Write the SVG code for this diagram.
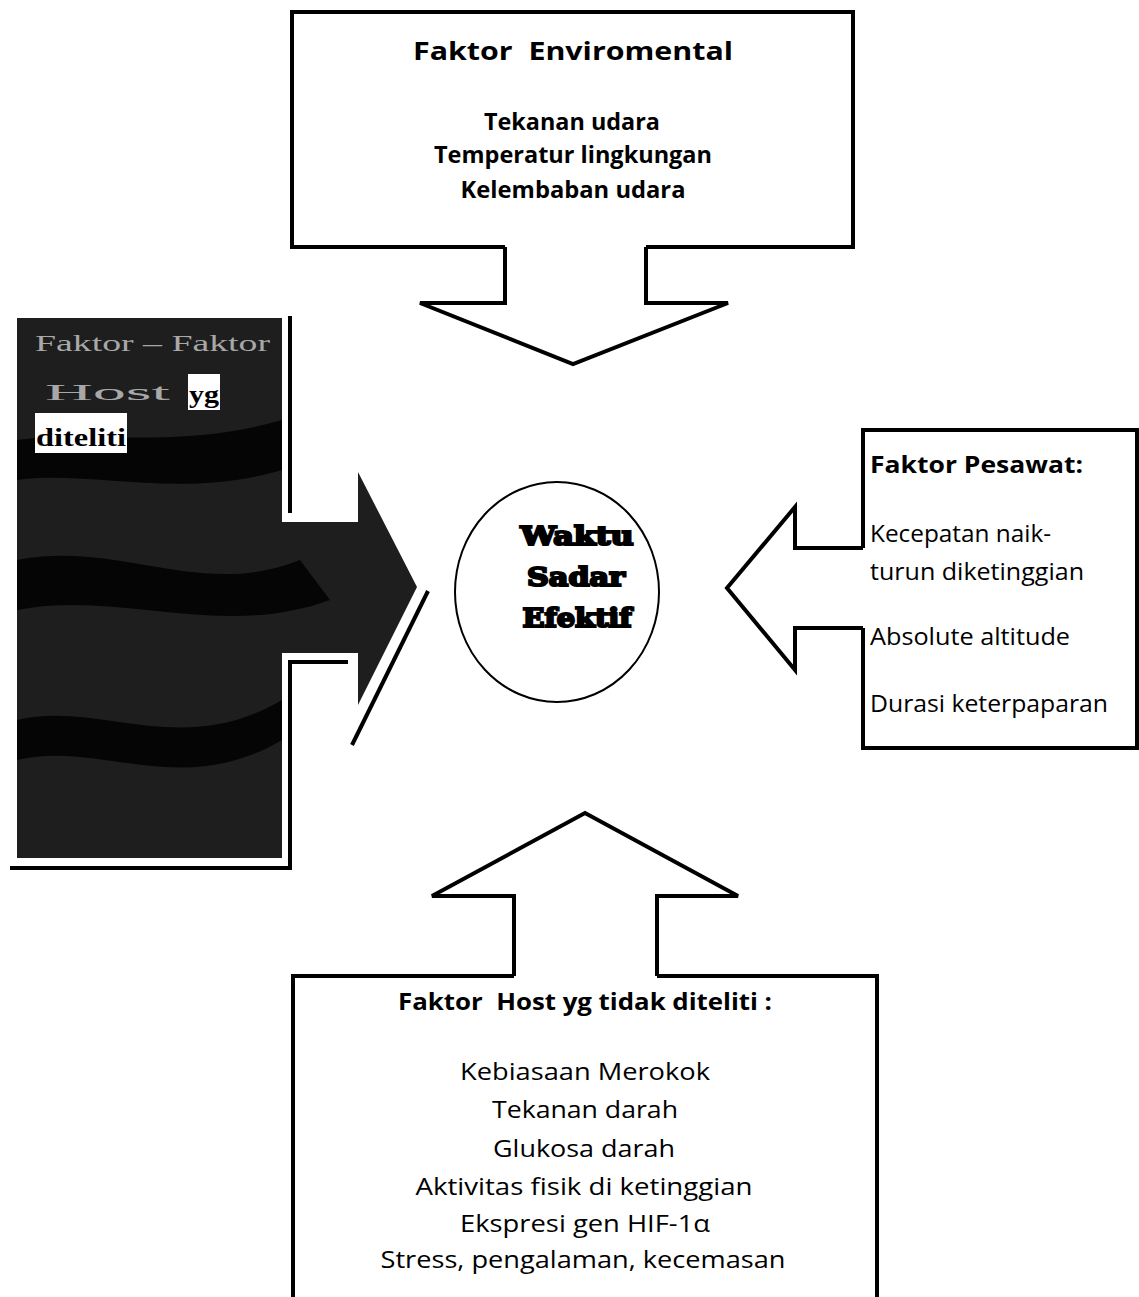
<svg xmlns="http://www.w3.org/2000/svg" width="1139" height="1297" viewBox="0 0 1139 1297">
<style>
  .ln { fill: none; stroke: #000; stroke-width: 4; stroke-linejoin: miter; }
  .t { font-family: "Open Sans", "Liberation Sans", sans-serif; fill: #000; white-space: pre; }
  .b { font-weight: bold; }
  .c { text-anchor: middle; }
  .big { font-family: "DejaVu Serif", "Liberation Serif", serif; font-weight: bold; fill: #000; stroke: #000; stroke-width: 2.2; text-anchor: middle; }
  .ser { font-family: "Liberation Serif", "DejaVu Serif", serif; font-weight: bold; fill: #000; }
  .faint { font-family: "Liberation Serif", "DejaVu Serif", serif; fill: #a8a8a8; }
</style>
<rect width="1139" height="1297" fill="#fff"/>

<g id="node-host-diteliti">
  <rect x="17" y="318" width="265" height="540" fill="#1e1e1e"/>
  <path d="M282,522 H358 V472 L417,587 L358,705 V653 H282 Z" fill="#1e1e1e"/>
  <path d="M17,480 C90,470 180,500 282,470 V420 C180,450 90,430 17,440 Z" fill="#050505"/>
  <path d="M17,560 C120,540 200,600 300,560 L330,600 C220,640 120,590 17,610 Z" fill="#050505"/>
  <path d="M17,720 C100,700 180,760 282,700 V740 C180,800 100,740 17,760 Z" fill="#050505"/>
  <text class="faint" x="35" y="351" font-size="24" textLength="235" lengthAdjust="spacingAndGlyphs">Faktor – Faktor</text>
  <text class="faint" x="45" y="400" font-size="24" textLength="125" lengthAdjust="spacingAndGlyphs">Host</text>
  <rect x="188" y="374" width="32" height="36" fill="#fff"/>
  <text class="ser" x="189" y="403" font-size="26" textLength="30" lengthAdjust="spacingAndGlyphs">yg</text>
  <rect x="35" y="413" width="92" height="40" fill="#fff"/>
  <text class="ser" x="36" y="446" font-size="26" textLength="90" lengthAdjust="spacingAndGlyphs">diteliti</text>
  <path class="ln" d="M290,316 V513"/>
  <path class="ln" d="M348,662 H290 V868 H10"/>
  <path class="ln" d="M428,591 L352,745"/>
</g>

<g id="connectors">
  <path class="ln" d="M505,247 V303 H420 L573,364 L728,303 H646 V247"/>
  <path class="ln" d="M863,548 H795 V507 L727,588 L795,670 V628 H863"/>
  <path class="ln" d="M514,976 V896 H432 L585,813 L738,896 H657 V976"/>
</g>

<g id="node-environmental">
  <path class="ln" d="M505,247 H292 V12 H853 V247 H646"/>
  <text class="t b c" x="573" y="60" font-size="25" textLength="320" lengthAdjust="spacingAndGlyphs">Faktor  Enviromental</text>
  <text class="t b c" x="572" y="130" font-size="23" textLength="176" lengthAdjust="spacingAndGlyphs">Tekanan udara</text>
  <text class="t b c" x="573" y="163" font-size="23" textLength="278" lengthAdjust="spacingAndGlyphs">Temperatur lingkungan</text>
  <text class="t b c" x="573" y="198" font-size="23" textLength="225" lengthAdjust="spacingAndGlyphs">Kelembaban udara</text>
</g>

<g id="node-pesawat">
  <path class="ln" d="M863,548 V430 H1137 V748 H863 V628"/>
  <text class="t b" x="870" y="473" font-size="24" textLength="213" lengthAdjust="spacingAndGlyphs">Faktor Pesawat:</text>
  <text class="t" x="870" y="542" font-size="24" textLength="181" lengthAdjust="spacingAndGlyphs">Kecepatan naik-</text>
  <text class="t" x="870" y="580" font-size="24" textLength="214" lengthAdjust="spacingAndGlyphs">turun diketinggian</text>
  <text class="t" x="870" y="645" font-size="24" textLength="200" lengthAdjust="spacingAndGlyphs">Absolute altitude</text>
  <text class="t" x="870" y="712" font-size="24" textLength="238" lengthAdjust="spacingAndGlyphs">Durasi keterpaparan</text>
</g>

<g id="node-waktu">
  <ellipse cx="557" cy="592" rx="102" ry="110" fill="none" stroke="#000" stroke-width="2"/>
  <text class="big" x="577" y="545" font-size="26" textLength="113" lengthAdjust="spacingAndGlyphs">Waktu</text>
  <text class="big" x="576" y="586" font-size="26" textLength="98" lengthAdjust="spacingAndGlyphs">Sadar</text>
  <text class="big" x="577" y="627" font-size="26" textLength="109" lengthAdjust="spacingAndGlyphs">Efektif</text>
</g>

<g id="node-host-tidak">
  <path class="ln" d="M293,1300 V976 H514 M657,976 H877 V1300"/>
  <text class="t b c" x="585" y="1010" font-size="24" textLength="374" lengthAdjust="spacingAndGlyphs">Faktor  Host yg tidak diteliti :</text>
  <text class="t c" x="585" y="1080" font-size="24" textLength="250" lengthAdjust="spacingAndGlyphs">Kebiasaan Merokok</text>
  <text class="t c" x="585" y="1118" font-size="24" textLength="186" lengthAdjust="spacingAndGlyphs">Tekanan darah</text>
  <text class="t c" x="584" y="1157" font-size="24" textLength="182" lengthAdjust="spacingAndGlyphs">Glukosa darah</text>
  <text class="t c" x="584" y="1195" font-size="24" textLength="337" lengthAdjust="spacingAndGlyphs">Aktivitas fisik di ketinggian</text>
  <text class="t c" x="585" y="1232" font-size="24" textLength="250" lengthAdjust="spacingAndGlyphs">Ekspresi gen HIF-1α</text>
  <text class="t c" x="583" y="1268" font-size="24" textLength="405" lengthAdjust="spacingAndGlyphs">Stress, pengalaman, kecemasan</text>
</g>
</svg>
